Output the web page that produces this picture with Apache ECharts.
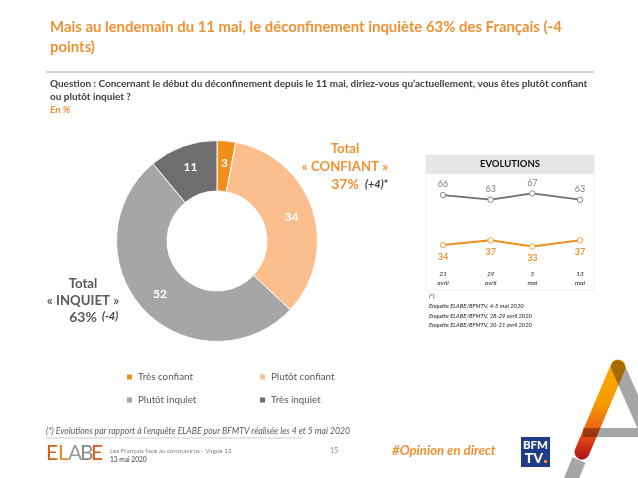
<!DOCTYPE html>
<html><head><meta charset="utf-8">
<style>html,body{margin:0;padding:0;background:#fff}#c{width:638px;height:478px}</style>
<script src="https://cdn.jsdelivr.net/npm/echarts@6/dist/echarts.min.js"></script>
</head><body><div id="c"></div>
<script>
const sliceNames = ['Très confiant','Plutôt confiant','Plutôt inquiet','Très inquiet'];
const sliceValues = [3,34,52,11];
const sliceColors = ['#F28E1C','#FBBE8C','#A6A6A6','#6E6E6E'];
const surveyDays = [21,29,36,44];
const dayLabels = ['21\navril','29\navril','5\nmai','13\nmai'];
const inquietValues = [66,63,67,63];
const confiantValues = [34,37,33,37];
const F = 'Lato, "Open Sans", sans-serif';
const ORANGE = '#EE9234', DARK = '#404040';

function txt(x,y,text,o){
  o=o||{};
  return {type:'text',x:x,y:y,z:o.z||5,style:{text:text,fill:o.c||DARK,font:(o.s||'')+' '+(o.w||'')+' '+(o.f||10)+'px '+F,textAlign:o.a||'left',textVerticalAlign:'middle'}};
}
const bar = (x1,y1,x2,y2,w,stroke,z,blend,cap)=>({type:'line',z:z||1,shape:{x1,y1,x2,y2},style:{stroke,lineWidth:w,lineCap:cap||'round',blend:blend}});
const graphics = [
  {type:'rect',z:0,shape:{x:426,y:155,width:168,height:135},style:{fill:'#fff',stroke:'#efefef',lineWidth:1}},
  {type:'rect',z:0,shape:{x:426,y:155,width:168,height:19},style:{fill:'#E6E6E6'}},
  {type:'line',z:1,shape:{x1:46,y1:72,x2:594,y2:72},style:{stroke:'#A6A6A6',lineWidth:1}},
  {type:'line',z:1,shape:{x1:46,y1:438,x2:302,y2:438},style:{stroke:'#BFBFBF',lineWidth:0.8}},
  bar(579,460,565,494,14,'#A6A6A6',1,undefined,'butt'),
  bar(618,367,660,462,14,'#A6A6A6'),
  {type:'rect',z:1,shape:{x:583,y:428,width:55,height:9},style:{fill:'#A6A6A6'}},
  bar(618,367,582,452,15,{type:'linear',x:0,y:0,x2:0,y2:1,colorStops:[{offset:0,color:'#FFA800'},{offset:.45,color:'#F59A00'},{offset:.72,color:'#EE5A14'},{offset:1,color:'#B00F14'}]},2,'multiply'),
  {type:'rect',z:1,shape:{x:521,y:437,width:29,height:30},style:{fill:'#1F3C88'}},
  txt(535.5,445,'BFM',{c:'#fff',w:'900',f:11.5,a:'center'}),
  txt(534,458,'TV',{c:'#fff',w:'900',f:14,a:'center'}),
  {type:'rect',z:6,shape:{x:544,y:460,width:3,height:3},style:{fill:'#F28E1C'}},

  txt(50,27,'Mais au lendemain du 11 mai, le déconfinement inquiète 63% des Français (-4',{c:ORANGE,w:'bold',f:14.9}),
  txt(50,47,'points)',{c:ORANGE,w:'bold',f:14.9}),
  txt(50,84,'Question : Concernant le début du déconfinement depuis le 11 mai, diriez-vous qu’actuellement, vous êtes plutôt confiant',{w:'bold',f:9.97}),
  txt(50,97,'ou plutôt inquiet ?',{w:'bold',f:9.97}),
  txt(50,110,'En %',{c:ORANGE,w:'bold',s:'italic',f:9.97}),

  txt(345,149,'Total',{c:ORANGE,w:'bold',f:13.2,a:'center'}),
  txt(345,167,'« CONFIANT »',{c:ORANGE,w:'bold',f:13.2,a:'center'}),
  txt(345,184,'37%',{c:ORANGE,w:'bold',f:14,a:'center'}),
  txt(365,184,'(+4)*',{w:'bold',s:'italic',f:11}),
  txt(83,284,'Total',{c:'#595959',w:'bold',f:13.2,a:'center'}),
  txt(83,301,'« INQUIET »',{c:'#595959',w:'bold',f:13.2,a:'center'}),
  txt(83,317,'63%',{c:'#595959',w:'bold',f:14,a:'center'}),
  txt(102,316,'(-4)',{w:'bold',s:'italic',f:11}),

  txt(510,164,'EVOLUTIONS',{c:'#111',w:'bold',f:9.5,a:'center'}),
  txt(429,296,'(*)',{c:'#222',s:'italic',f:6}),
  txt(429,306,'Enquête ELABE/BFMTV, 4-5 mai 2020',{c:'#222',s:'italic',f:5.85}),
  txt(429,316,'Enquête ELABE/BFMTV, 28-29 avril 2020',{c:'#222',s:'italic',f:5.85}),
  txt(429,325,'Enquête ELABE/BFMTV, 20-21 avril 2020',{c:'#222',s:'italic',f:5.85}),

  txt(46,431,'(*) Evolutions par rapport à l’enquête ELABE pour BFMTV réalisée les 4 et 5 mai 2020',{c:'#595959',s:'italic',f:8.6}),
  txt(46,453,'E',{c:'#D9601A',f:21}),
  txt(58,453,'L',{c:'#E98A1F',f:21}),
  txt(68,453,'A',{c:'#9A9A9A',f:21}),
  txt(80,453,'B',{c:'#8A8A8A',f:21}),
  txt(91,453,'E',{c:'#D9601A',f:21}),
  txt(110,451,'Les Français face au coronavirus - Vague 13',{c:'#7F7F7F',f:6.4}),
  txt(110,460,'13 mai 2020',{c:'#404040',f:6.6}),
  txt(330,451,'15',{c:'#7F7F7F',f:7}),
  txt(392,451,'#Opinion en direct',{c:ORANGE,w:'bold',s:'italic',f:13.2})
];

const chart = echarts.init(document.getElementById('c'),null,{renderer:'canvas'});
const legendBase = {orient:'vertical',itemWidth:7,itemHeight:7,itemGap:13,icon:'rect',textStyle:{fontFamily:F,fontSize:9.8,color:'#595959'},selectedMode:false};
chart.setOption({
  animation:false,
  backgroundColor:'#fff',
  textStyle:{fontFamily:F},
  color:sliceColors,
  legend:[
    Object.assign({},legendBase,{left:120,top:367,data:[sliceNames[0],sliceNames[2]]}),
    Object.assign({},legendBase,{left:253,top:367,data:[sliceNames[1],sliceNames[3]]})
  ],
  grid:{left:443,width:137,top:173.2,height:93.6,containLabel:false},
  xAxis:{type:'value',min:surveyDays[0],max:surveyDays[3],splitLine:{show:false},axisLine:{show:false},axisTick:{show:false},
    axisLabel:{customValues:surveyDays,hideOverlap:false,margin:3,fontFamily:F,fontSize:6.5,fontStyle:'italic',color:'#222',lineHeight:9,
      formatter:v=>dayLabels[surveyDays.indexOf(v)]}},
  yAxis:{type:'value',min:20,max:80,show:false,splitLine:{show:false}},
  series:[
    {type:'pie',center:[217,241],radius:[50,100.5],startAngle:90,clockwise:true,
     data:sliceNames.map((n,i)=>({name:n,value:sliceValues[i],itemStyle:{color:sliceColors[i]}})),
     itemStyle:{borderColor:'#fff',borderWidth:1},
     label:{position:'inside',formatter:'{c}',color:'#fff',fontFamily:F,fontWeight:'bold',fontSize:12},
     labelLine:{show:false},emphasis:{disabled:true}},
    {type:'line',name:'Total inquiet',data:surveyDays.map((d,i)=>[d,inquietValues[i]]),symbol:'circle',symbolSize:5.5,
     lineStyle:{color:'#6E6E6E',width:1.8},itemStyle:{color:'#fff',borderColor:'#6E6E6E',borderWidth:0.8},
     label:{show:true,position:'top',distance:3,color:'#7F7F7F',fontFamily:F,fontSize:9,formatter:p=>p.value[1]}},
    {type:'line',name:'Total confiant',data:surveyDays.map((d,i)=>[d,confiantValues[i]]),symbol:'circle',symbolSize:5.5,
     lineStyle:{color:'#F28E1C',width:2},itemStyle:{color:'#fff',borderColor:'#F28E1C',borderWidth:0.8},
     label:{show:true,position:'bottom',distance:4,color:ORANGE,fontFamily:F,fontWeight:'bold',fontSize:9,formatter:p=>p.value[1]}}
  ],
  graphic:graphics
});
</script></body></html>
